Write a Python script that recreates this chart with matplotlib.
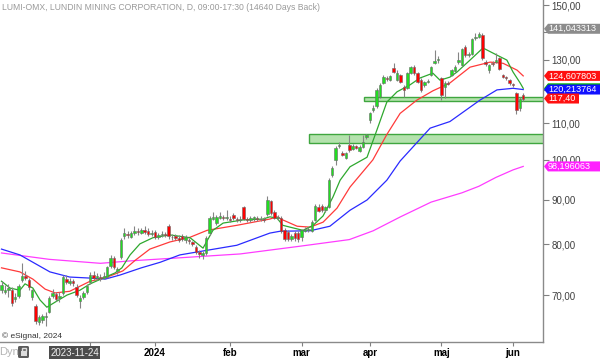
import matplotlib
matplotlib.use('Agg')
import matplotlib.pyplot as plt
from matplotlib.patches import Rectangle, Polygon, FancyBboxPatch
from matplotlib.ticker import FixedLocator, NullLocator, FuncFormatter

plt.rcParams['font.family'] = ['Liberation Sans', 'DejaVu Sans']

TITLE = 'LUMI-OMX, LUNDIN MINING CORPORATION, D, 09:00-17:30 (14640 Days Back)'

# daily candles, oldest first (Nov 2023 .. 7 Jun 2024)
opens = [71.0, 70.6, 71.0, 70.9, 69.2, 69.8, 72.8, 73.6, 72.8, 69.6,
         68.0, 65.2, 65.5, 66.0, 67.0, 69.8, 70.2, 69.5, 70.4, 73.0,
         72.3, 72.6, 71.5, 69.0, 69.6, 70.5, 72.4, 73.8, 73.3, 73.5,
         73.3, 73.4, 75.5, 77.2, 74.6, 77.4, 81.8, 82.2, 81.6, 82.4,
         82.8, 82.5, 83.0, 82.9, 82.2, 82.6, 81.6, 81.9, 82.3, 84.0,
         81.6, 81.7, 81.4, 81.8, 80.9, 80.9, 80.4, 79.4, 78.3, 77.8,
         78.2, 82.5, 85.6, 84.6, 85.8, 86.0, 85.7, 85.5, 86.4, 85.6,
         85.3, 88.3, 85.6, 85.2, 85.4, 85.8, 85.4, 85.6, 86.6, 89.6,
         87.0, 85.8, 85.8, 83.0, 82.6, 81.1, 82.5, 82.4, 81.5, 82.9,
         83.0, 82.9, 85.3, 88.3, 88.5, 87.5, 88.3, 96.0, 99.9, 103.5,
         101.6, 100.5, 103.9, 102.9, 103.6, 102.3, 103.4, 106.0, 111.0, 113.9,
         115.0, 118.0, 122.4, 124.0, 123.2, 127.2, 123.2, 124.9, 121.0, 120.7,
         125.5, 127.5, 125.5, 123.4, 121.5, 122.6, 124.9, 129.0, 129.8, 123.9,
         120.9, 122.4, 124.9, 126.3, 129.3, 128.2, 134.5, 131.5, 132.1, 137.6,
         138.2, 138.6, 129.4, 126.5, 129.0, 129.4, 130.5, 124.9, 124.3, 123.2,
         122.0, 119.0, 114.6, 118.5]
highs = [72.6, 71.8, 72.0, 71.5, 70.4, 72.0, 76.2, 74.5, 73.2, 71.2,
         68.4, 66.4, 66.6, 67.0, 69.8, 71.2, 70.6, 70.6, 73.8, 73.7,
         73.2, 73.0, 72.0, 70.0, 70.8, 72.1, 74.3, 74.6, 74.2, 74.0,
         74.4, 75.6, 77.8, 77.6, 75.4, 81.3, 83.5, 82.8, 82.9, 84.0,
         83.4, 83.6, 84.0, 83.5, 83.0, 83.0, 82.4, 82.8, 82.7, 84.5,
         82.1, 82.3, 82.0, 82.2, 81.9, 81.3, 80.8, 79.8, 78.8, 78.7,
         81.8, 86.3, 87.0, 86.5, 87.0, 86.5, 87.5, 86.1, 86.8, 86.0,
         86.2, 88.6, 86.0, 86.1, 86.3, 86.2, 86.1, 86.0, 90.8, 90.0,
         87.5, 86.5, 86.2, 83.4, 83.0, 82.3, 82.9, 82.8, 83.3, 83.8,
         83.7, 85.2, 88.9, 89.0, 89.0, 88.6, 95.2, 98.3, 103.6, 104.6,
         102.3, 102.0, 106.6, 104.2, 104.0, 103.8, 106.6, 107.0, 113.4, 115.5,
         120.6, 122.3, 124.8, 124.6, 125.0, 128.9, 126.4, 125.3, 121.5, 126.0,
         128.0, 128.3, 126.0, 123.8, 123.0, 123.5, 128.0, 133.4, 131.2, 124.3,
         122.9, 123.0, 126.9, 128.2, 132.6, 134.2, 135.2, 132.8, 137.6, 139.5,
         139.7, 139.4, 130.0, 128.6, 129.5, 132.2, 131.0, 125.3, 124.7, 123.6,
         122.4, 119.5, 118.0, 119.0]
lows = [70.4, 70.2, 69.6, 68.0, 68.8, 69.5, 72.4, 72.9, 71.0, 69.1,
        64.9, 64.7, 65.0, 64.6, 66.8, 69.5, 69.0, 68.8, 70.1, 72.0,
        71.8, 71.6, 69.6, 67.6, 69.3, 70.2, 72.1, 72.8, 72.9, 72.7,
        73.0, 73.2, 75.2, 75.0, 74.0, 77.0, 81.2, 81.4, 81.3, 82.0,
        82.0, 82.1, 82.3, 81.8, 81.8, 81.2, 81.1, 81.5, 81.6, 81.2,
        81.0, 80.9, 80.5, 80.6, 80.3, 80.0, 79.6, 78.0, 77.2, 77.0,
        77.8, 82.0, 85.2, 84.2, 85.4, 85.2, 85.3, 84.8, 85.3, 84.9,
        84.9, 85.2, 84.9, 84.9, 85.0, 85.0, 85.0, 84.8, 86.2, 86.5,
        85.4, 85.2, 82.4, 80.8, 80.6, 80.7, 80.8, 80.5, 80.8, 82.6,
        82.6, 82.6, 85.0, 87.0, 87.2, 87.1, 88.0, 95.6, 98.5, 103.0,
        100.8, 100.1, 102.0, 102.5, 102.7, 101.9, 103.0, 105.6, 110.1, 113.2,
        114.6, 117.5, 122.0, 123.0, 122.8, 125.4, 122.8, 122.2, 117.9, 120.3,
        125.1, 125.0, 122.2, 119.5, 121.0, 122.2, 124.5, 128.6, 128.8, 116.9,
        117.5, 121.5, 124.5, 125.9, 128.6, 127.8, 131.0, 130.9, 131.6, 137.0,
        137.7, 130.0, 127.8, 125.5, 128.0, 128.8, 126.5, 123.8, 123.3, 121.8,
        121.0, 112.8, 113.5, 116.5]
closes = [71.8, 70.9, 71.4, 68.5, 69.6, 71.6, 73.6, 73.3, 71.5, 70.9,
          65.4, 66.0, 66.2, 66.3, 69.4, 70.3, 69.3, 69.9, 73.4, 72.4,
          72.6, 72.2, 70.0, 69.5, 70.4, 71.7, 73.8, 73.2, 73.6, 73.2,
          73.6, 75.3, 77.2, 75.4, 74.9, 80.9, 82.4, 81.9, 82.4, 82.8,
          82.6, 83.0, 82.7, 82.2, 82.5, 81.6, 81.9, 82.3, 82.0, 81.7,
          81.5, 81.4, 81.0, 81.1, 81.5, 80.6, 80.0, 78.4, 78.0, 78.2,
          81.4, 85.8, 86.0, 85.9, 86.1, 85.7, 86.0, 85.2, 85.7, 85.3,
          85.6, 85.6, 85.2, 85.7, 85.9, 85.4, 85.6, 85.3, 89.9, 86.9,
          85.8, 86.0, 82.8, 81.2, 81.2, 81.8, 81.3, 81.1, 83.0, 83.2,
          83.2, 84.8, 88.5, 87.4, 87.6, 88.2, 94.7, 97.8, 103.1, 104.0,
          101.3, 101.6, 102.5, 103.6, 103.2, 103.4, 104.6, 106.6, 112.9, 114.6,
          120.1, 121.7, 124.2, 123.6, 124.5, 125.8, 125.6, 122.6, 120.1, 125.5,
          127.5, 125.5, 122.6, 120.1, 122.6, 122.9, 127.5, 129.6, 130.4, 118.5,
          122.4, 122.1, 126.5, 127.7, 130.0, 133.6, 131.5, 132.0, 137.2, 138.2,
          139.2, 130.5, 128.4, 128.2, 128.5, 130.0, 127.0, 124.3, 123.8, 122.2,
          121.6, 113.9, 117.4, 117.4]

# moving averages (candle index, value)
ma_fast_idx = [0, 2.5, 5.4, 6.9, 9.2, 11.3, 13.3, 15.7, 19.2, 23, 26, 29.8, 33.3,
               35.3, 37.7, 40.6, 44.4, 49.4, 55.3, 59.1, 62, 65, 70.8, 76.7, 78.7,
               80.8, 82.5, 84.6, 88.4, 91.4, 94.3, 97.2, 99.3, 102.2, 107.2, 110.1,
               113, 116, 119.8, 122.7, 126.5, 128.6, 131.5, 133.6, 137.4, 141.2,
               145.3, 148.2, 150, 152.1, 153]
ma_fast = [72.6, 71.3, 70.9, 72.1, 71.3, 69.1, 67.8, 68.7, 70.0, 70.9, 72.1, 73.2, 74.2,
           75.2, 77.8, 80.1, 81.4, 82.0, 81.4, 79.2, 83.0, 84.6, 85.3, 85.5, 86.0,
           85.7, 84.1, 83.7, 83.0, 84.1, 86.2, 90.6, 94.7, 98.1, 100.6, 108.1,
           116.3, 119.5, 121.7, 123.9, 125.5, 123.2, 124.2, 125.9, 129.9, 134.1,
           131.6, 129.9, 125.9, 122.3, 120.6]
ma_mid_idx = [0, 5.4, 9.2, 12.8, 15.7, 20, 26, 29, 31.8, 35.6, 39.2, 43.5, 49.4, 55.3,
              60.3, 69, 78.7, 80.8, 82.5, 86.7, 90.5, 94.3, 98.4, 102.2, 108.9, 113,
              116.9, 121.8, 126.5, 131.5, 137.4, 143.3, 147.1, 151.2, 153]
ma_mid = [75.2, 74.4, 73.0, 71.1, 70.4, 70.7, 72.6, 73.0, 73.6, 74.6, 76.7, 79.0, 80.5, 81.5,
          83.0, 84.1, 85.5, 86.0, 85.3, 83.9, 83.7, 84.8, 88.0, 93.0, 99.9, 106.8,
          112.9, 116.9, 119.8, 122.3, 127.5, 129.2, 128.8, 126.5, 124.6]
ma_slow_idx = [0, 5.4, 14.2, 20, 26, 30.4, 34.8, 41, 46.5, 52.3, 59, 69, 78.7, 81.7,
               90.5, 96.3, 102.2, 107.2, 113, 116.9, 125.7, 131.5, 140.3, 145.3, 150, 153]
ma_slow = [79.0, 77.8, 74.4, 73.4, 73.2, 73.0, 73.8, 75.2, 76.3, 77.8, 78.6, 79.8, 82.4, 82.8,
           82.9, 83.9, 87.5, 89.9, 94.7, 99.6, 108.6, 110.5, 116.9, 120.1, 120.6, 120.2]
ma_long_idx = [0, 14, 29, 38, 52, 70, 87.5, 102, 109, 117, 126, 135, 140, 145, 150, 153]
ma_long = [78.2, 76.9, 76.1, 76.6, 77.2, 78.0, 79.6, 81.0, 82.9, 86.0, 89.4, 91.6, 93.2,
           95.4, 97.3, 98.2]

# support zones (start index, low, high)
zones = [(106.3, 116.6, 117.9), (90.2, 104.5, 106.8)]

price_ticks = [70, 80, 90, 100, 110, 120, 130, 140, 150]
hidden_ticks = [120, 140]  # labels sit under the value tags
month_pos = [26, 45, 67, 88, 108, 129, 150]
month_lbl = ['', '2024', 'feb', 'mar', 'apr', 'maj', 'jun']

# right side value tags: value, text, colour, width in px
tags = [(141.043313, '141,043313', '#8c8c8c', 54),
        (124.607803, '124,607803', '#ff1010', 54),
        (120.6, '', '#00b400', 54),
        (120.213764, '120,213764', '#1010ff', 54),
        (117.40, '117,40', '#ff1010', 31),
        (98.196063, '98,196063', '#ff20ff', 54)]

W, H = 600, 359
fig = plt.figure(figsize=(W / 100, H / 100), dpi=100)
ax = fig.add_axes([0, 17 / H, 543 / W, 342 / H])
ax.set_yscale('log')
ax.set_xlim(-0.44, 158.8)
ax.set_ylim(61.87, 152.14)

for x0, lo, hi in zones:
    ax.add_patch(Rectangle((x0, lo), 200, hi - lo, facecolor='#b4e2ad',
                           edgecolor='#3fa63f', linewidth=1.0, zorder=1))

ax.plot(ma_long_idx, ma_long, color='#ff3cff', lw=0.9, zorder=2)
ax.plot(ma_slow_idx, ma_slow, color='#2a2aff', lw=0.9, zorder=2)
ax.plot(ma_mid_idx, ma_mid, color='#ff3a3a', lw=0.9, zorder=2)
ax.plot(ma_fast_idx, ma_fast, color='#2ea82e', lw=0.9, zorder=2)

bw = 0.72
for i, (o, h, l, c) in enumerate(zip(opens, highs, lows, closes)):
    ax.vlines(i, l, h, color='#858585', lw=0.8, zorder=3)
    col = '#22dd22' if c >= o else '#ff0000'
    ax.add_patch(Rectangle((i - bw / 2, min(o, c)), bw, abs(c - o),
                           facecolor=col, edgecolor='#6a6a6a', linewidth=0.4, zorder=4))

for s in ['top', 'left']:
    ax.spines[s].set_visible(False)
for s in ['right', 'bottom']:
    ax.spines[s].set_color('#8a8a8a')
    ax.spines[s].set_linewidth(1.0)


def price_fmt(v, pos):
    if round(v) in hidden_ticks:
        return ''
    return f'{v:.2f}'.replace('.', ',')


ax.yaxis.tick_right()
ax.yaxis.set_major_locator(FixedLocator(price_ticks))
ax.yaxis.set_minor_locator(NullLocator())
ax.yaxis.set_major_formatter(FuncFormatter(price_fmt))
ax.tick_params(axis='y', direction='out', length=4, width=0.8, colors='#808080',
               labelcolor='#404040', labelsize=7, pad=2)
ax.set_xticks(month_pos)
ax.set_xticklabels(month_lbl, fontweight='bold', fontsize=7, color='black')
ax.tick_params(axis='x', direction='out', length=3, width=0.8, colors='#808080',
               labelcolor='black', pad=1.5)

ax.text(0.004, 1 - 8 / 342, TITLE, transform=ax.transAxes, fontsize=6.2,
        color='#9a9a9a', va='center', ha='left')
ax.text(0.003, 6 / 342, '\u00a9 eSignal, 2024', transform=ax.transAxes, fontsize=6,
        color='#333333', va='center', ha='left')

# price tags on the right axis
xr = ax.transAxes.transform((1, 0))[0]
for val, txt, col, wpx in tags:
    yd = ax.transData.transform((0, val))[1]
    hh = 5.0
    pts = [(xr + 1, yd), (xr + 5, yd + hh), (xr + 5 + wpx, yd + hh),
           (xr + 5 + wpx, yd - hh), (xr + 5, yd - hh)]
    fig.add_artist(Polygon(pts, closed=True, transform=None, facecolor=col,
                           edgecolor='none'))
    if txt:
        fig.text((xr + 5) / W, yd / H, txt, color='white', fontsize=6.6,
                 va='center', ha='left')

# bottom strip widgets
fig.text(-1 / W, 7 / H, 'Dyn', color='#b4b4b4', fontsize=8, va='center', ha='left')
fig.add_artist(FancyBboxPatch((18, 1), 11, 12, boxstyle='round,pad=0,rounding_size=1.5',
                              transform=None, facecolor='#5c5c5c', edgecolor='none'))
fig.add_artist(Rectangle((20.5, 3), 6, 5, transform=None, facecolor='#dcdcdc',
                         edgecolor='none'))
fig.add_artist(Rectangle((21.5, 8), 4, 3, transform=None, facecolor='none',
                         edgecolor='#dcdcdc', linewidth=1))
fig.add_artist(Rectangle((49, 0), 51, 13, transform=None, facecolor='#4c4c4c',
                         edgecolor='none'))
fig.text(74.5 / W, 6.5 / H, '2023-11-24', color='#f0f0f0', fontsize=7,
         va='center', ha='center')

fig.savefig('out.png', dpi=100)
